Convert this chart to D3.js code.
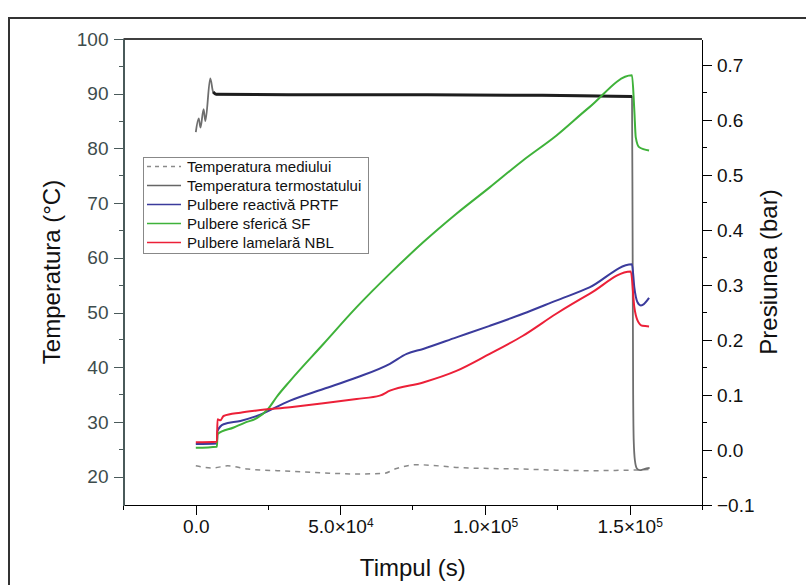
<html>
<head>
  <meta charset="utf-8">
  <style>
    body {
      margin: 0;
      background: #fff;
    }
    text {
      font-family: "Liberation Sans", Arial, sans-serif;
    }
    .frame {
      fill: none;
      stroke: #333;
      stroke-width: 2;
    }
    .axis path, .axis line {
      stroke: #000;
      shape-rendering: crispEdges;
    }
    .axis text {
      font-size: 19px;
      fill: #111;
    }
    .left path, .left line {
      stroke: #4a5a5a;
    }
    .left text {
      fill: #3d4c4c;
    }
    .title {
      font-size: 24px;
      fill: #111;
      text-anchor: middle;
    }
    .series {
      fill: none;
      stroke-linejoin: round;
    }
    .legend rect {
      fill: #fff;
      stroke: #888;
    }
    .legend text {
      font-size: 15px;
      fill: #111;
    }
  </style>
</head>
<body>
<svg class="chart"></svg>
<script src="https://cdn.jsdelivr.net/npm/d3@7"></script>
<script>
    var width = 806, height = 585;
    var chart = d3.select(".chart")
      .attr("width", width)
      .attr("height", height);

    // time (s), temperature (°C) -- left axis
    var ambientTemp = [
      [0, 22.0], [6000, 21.6], [11000, 22.0], [18000, 21.4], [33000, 21.0],
      [44000, 20.7], [55600, 20.5], [64800, 20.6], [69400, 21.5], [76300, 22.2],
      [81000, 22.1], [90000, 21.7], [101600, 21.5], [113100, 21.4], [124600, 21.2],
      [136100, 21.1], [156700, 21.3]
    ];
    var thermostatTemp = [
      [0, 83], [1000, 85.5], [1600, 83.8], [2700, 87.2], [3300, 85], [5000, 92.8],
      [6000, 90.3], [7000, 89.9], [40000, 89.8], [80000, 89.8], [120000, 89.7],
      [150800, 89.5], [151000, 65], [151200, 35], [151400, 26.5], [151800, 23],
      [152500, 21.5], [153500, 21.2], [155000, 21.4], [156900, 21.6]
    ];
    // time (s), pressure (bar) -- right axis
    var pressPRTF = [
      [0, 0.011], [7300, 0.012], [7500, 0.035], [9600, 0.047], [15400, 0.053],
      [21100, 0.062], [32600, 0.09], [44100, 0.111], [55600, 0.132], [67100, 0.157],
      [72900, 0.175], [78600, 0.184], [90100, 0.205], [101600, 0.226], [113100, 0.248],
      [124600, 0.272], [136100, 0.296], [150800, 0.338], [151600, 0.296],
      [152700, 0.269], [153900, 0.263], [156700, 0.277]
    ];
    var pressSF = [
      [0, 0.004], [7300, 0.006], [7500, 0.029], [13100, 0.041], [17000, 0.05],
      [21100, 0.058], [25000, 0.075], [28000, 0.097], [32600, 0.126], [44100, 0.193],
      [55600, 0.26], [67100, 0.321], [78600, 0.378], [90100, 0.43], [101600, 0.478],
      [113100, 0.527], [124600, 0.572], [136100, 0.624], [150800, 0.682],
      [151600, 0.618], [152100, 0.569], [153300, 0.551], [156700, 0.545]
    ];
    var pressNBL = [
      [0, 0.014], [7300, 0.015], [7500, 0.056], [8500, 0.054], [9600, 0.062],
      [15400, 0.068], [21100, 0.072], [32600, 0.078], [44100, 0.085], [55600, 0.093],
      [63600, 0.099], [67100, 0.108], [78600, 0.123], [90100, 0.144], [101600, 0.175],
      [113100, 0.208], [124600, 0.248], [136100, 0.284], [150400, 0.325],
      [151600, 0.26], [152700, 0.236], [154400, 0.226], [156700, 0.225]
    ];

    var xTicks = [0, 50000, 100000, 150000];
    var xMinor = [-25000, 25000, 75000, 125000, 175000];
    var leftTicks = [20, 30, 40, 50, 60, 70, 80, 90, 100];
    var leftMinor = [25, 35, 45, 55, 65, 75, 85, 95];
    var rightTicks = [-0.1, 0, 0.1, 0.2, 0.3, 0.4, 0.5, 0.6, 0.7];
    var rightMinor = [-0.05, 0.05, 0.15, 0.25, 0.35, 0.45, 0.55, 0.65];

    var legendNames = [
      "Temperatura mediului",
      "Temperatura termostatului",
      "Pulbere reactivă PRTF",
      "Pulbere sferică SF",
      "Pulbere lamelară NBL"
    ];

    var plotLeft = 123.5, plotRight = 702, plotTop = 39, plotBottom = 505;

    var x = d3.scaleLinear().domain([-25000, 175000]).range([plotLeft, plotRight]);
    var yT = d3.scaleLinear().domain([14.83, 100]).range([plotBottom, plotTop]);
    var yP = d3.scaleLinear().domain([-0.1, 0.748]).range([plotBottom, plotTop]);

    // outer figure frame
    chart.append("rect")
      .attr("class", "frame")
      .attr("x", 9).attr("y", 18)
      .attr("width", 820).attr("height", 600);

    // top line
    chart.append("line")
      .attr("x1", plotLeft).attr("x2", plotRight)
      .attr("y1", plotTop).attr("y2", plotTop)
      .attr("stroke", "#000")
      .attr("stroke-width", 1.5);

    function sciFormat(sel) {
      sel.selectAll(".tick text").each(function(d) {
        var t = d3.select(this).text("");
        if (d === 0) { t.text("0.0"); return; }
        var e = Math.floor(Math.log10(d));
        var m = d / Math.pow(10, e);
        t.append("tspan").text(m.toFixed(1) + "×10");
        t.append("tspan").attr("dy", "-0.55em").attr("font-size", "12px").text(e);
      });
    }

    // x axis
    var gx = chart.append("g")
      .attr("class", "axis bottom")
      .attr("transform", "translate(0," + plotBottom + ")")
      .call(d3.axisBottom(x).tickValues(xTicks).tickSize(10).tickPadding(5).tickSizeOuter(0))
      .call(sciFormat);
    gx.selectAll(".minor").data(xMinor).enter().append("line")
      .attr("class", "minor")
      .attr("x1", function(d) { return x(d); }).attr("x2", function(d) { return x(d); })
      .attr("y1", 0).attr("y2", 5);
    gx.select(".domain").attr("stroke-width", 1.5);

    // left axis
    var gl = chart.append("g")
      .attr("class", "axis left")
      .attr("transform", "translate(" + plotLeft + ",0)")
      .call(d3.axisLeft(yT).tickValues(leftTicks).tickSize(10).tickPadding(5).tickSizeOuter(0)
        .tickFormat(d3.format("d")));
    gl.selectAll(".minor").data(leftMinor).enter().append("line")
      .attr("class", "minor")
      .attr("y1", function(d) { return yT(d); }).attr("y2", function(d) { return yT(d); })
      .attr("x1", 0).attr("x2", -5);
    gl.select(".domain").attr("stroke-width", 1.5);

    // right axis
    var gr = chart.append("g")
      .attr("class", "axis right")
      .attr("transform", "translate(" + plotRight + ",0)")
      .call(d3.axisRight(yP).tickValues(rightTicks).tickSize(10).tickPadding(5).tickSizeOuter(0)
        .tickFormat(d3.format(".1f")));
    gr.selectAll(".minor").data(rightMinor).enter().append("line")
      .attr("class", "minor")
      .attr("y1", function(d) { return yP(d); }).attr("y2", function(d) { return yP(d); })
      .attr("x1", 0).attr("x2", 5);
    gr.select(".domain").attr("stroke-width", 1.5);

    // axis titles
    chart.append("text")
      .attr("class", "title")
      .attr("transform", "translate(60," + ((plotTop + plotBottom) / 2) + ") rotate(-90)")
      .text("Temperatura (°C)");
    chart.append("text")
      .attr("class", "title")
      .attr("transform", "translate(777," + ((plotTop + plotBottom) / 2) + ") rotate(-90)")
      .text("Presiunea (bar)");
    chart.append("text")
      .attr("class", "title")
      .attr("x", (plotLeft + plotRight) / 2)
      .attr("y", 576)
      .text("Timpul (s)");

    // series
    var lineT = d3.line()
      .x(function(d) { return x(d[0]); })
      .y(function(d) { return yT(d[1]); })
      .curve(d3.curveMonotoneX);
    var lineP = d3.line()
      .x(function(d) { return x(d[0]); })
      .y(function(d) { return yP(d[1]); })
      .curve(d3.curveMonotoneX);

    // thermostat plateau drawn darker and thicker over the thin gray trace
    var plateau = thermostatTemp.filter(function(d) { return d[0] >= 6000 && d[0] <= 150800; });

    var series = [
      { data: ambientTemp, line: lineT, color: "#8a8a8a", w: 1.5, dash: "5,5" },
      { data: thermostatTemp, line: lineT, color: "#6e6e6e", w: 1.8, dash: null },
      { data: plateau, line: lineT, color: "#1e1e1e", w: 3, dash: null },
      { data: pressPRTF, line: lineP, color: "#3b3b9c", w: 2, dash: null },
      { data: pressSF, line: lineP, color: "#3fb23a", w: 2, dash: null },
      { data: pressNBL, line: lineP, color: "#ec2038", w: 2, dash: null }
    ];

    chart.selectAll(".series")
      .data(series)
      .enter()
      .append("path")
      .attr("class", "series")
      .attr("d", function(d) { return d.line(d.data); })
      .attr("stroke", function(d) { return d.color; })
      .attr("stroke-width", function(d) { return d.w; })
      .attr("stroke-dasharray", function(d) { return d.dash; });

    // legend
    var legend = chart.append("g").attr("class", "legend");
    legend.append("rect")
      .attr("x", 143.5).attr("y", 157.5)
      .attr("width", 225).attr("height", 96);
    var legendColors = ["#8a8a8a", "#666", "#3b3b9c", "#3fb23a", "#ec2038"];
    var rows = legend.selectAll(".row")
      .data(legendNames)
      .enter()
      .append("g")
      .attr("class", "row")
      .attr("transform", function(d, i) {
        return "translate(0," + (166.5 + i * 19) + ")";
      });
    rows.append("line")
      .attr("x1", 147).attr("x2", 181)
      .attr("y1", 0).attr("y2", 0)
      .attr("stroke", function(d, i) { return legendColors[i]; })
      .attr("stroke-width", 1.5)
      .attr("stroke-dasharray", function(d, i) { return i === 0 ? "4,4" : null; });
    rows.append("text")
      .attr("x", 187)
      .attr("dy", "0.35em")
      .text(function(d) { return d; });

</script>
</body>
</html>
